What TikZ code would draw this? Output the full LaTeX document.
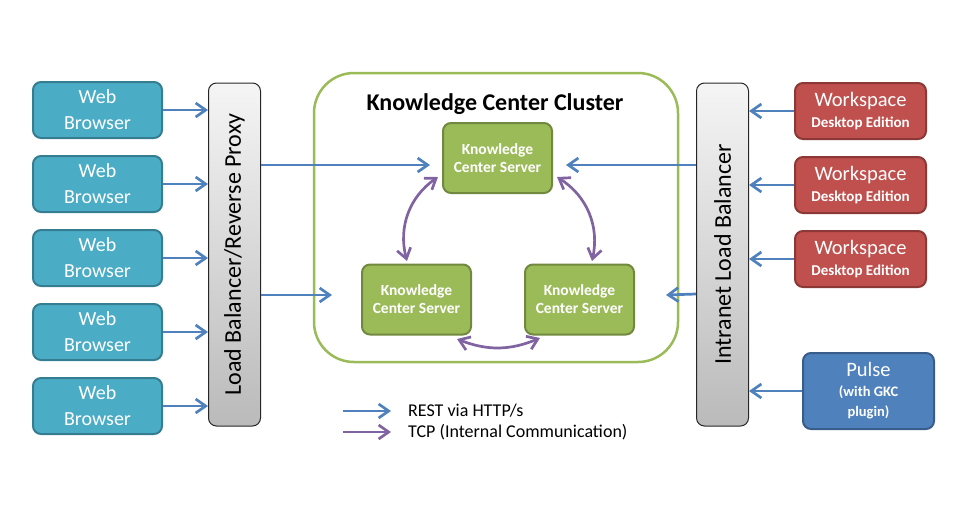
\documentclass[tikz,border=0pt]{standalone}
\usepackage{fontspec}
\setmainfont{Carlito}
\usetikzlibrary{arrows.meta,calc}
\definecolor{tealfill}{HTML}{4BACC6}
\definecolor{tealline}{HTML}{357D91}
\definecolor{grnfill}{HTML}{9BBB59}
\definecolor{grnline}{HTML}{71893F}
\definecolor{redfill}{HTML}{C0504D}
\definecolor{redline}{HTML}{8C3836}
\definecolor{bluefill}{HTML}{4F81BD}
\definecolor{blueline}{HTML}{385D8A}
\definecolor{arrblue}{HTML}{4F81BD}
\definecolor{arrpurple}{HTML}{8064A2}
\begin{document}
\begin{tikzpicture}[x=1pt,y=-1pt,
  box/.style={rounded corners=8pt, line width=2pt, text=white, align=center, inner sep=0pt},
  web/.style={box, fill=tealfill, draw=tealline, minimum width=129pt, minimum height=56pt, font=\fontsize{20}{26}\selectfont},
  kcs/.style={box, fill=grnfill, draw=grnline, minimum width=109pt, minimum height=70pt, font=\bfseries\fontsize{15.5}{18}\selectfont},
  wsd/.style={box, fill=redfill, draw=redline, minimum width=131pt, minimum height=56pt, font=\fontsize{15}{21}\selectfont},
  pls/.style={box, fill=bluefill, draw=blueline, minimum width=131pt, minimum height=76pt, font=\fontsize{14.5}{20}\selectfont},
  lbbox/.style={rounded corners=8pt, line width=1pt, draw=black!85, top color=black!4, bottom color=black!27, minimum width=52pt, inner sep=0pt},
  lbtext/.style={rotate=90, font=\fontsize{24}{26}\selectfont},
  rest/.style={draw=arrblue, line width=2.7pt, -{Straight Barb[length=10pt,width=14pt]}},
  tcp/.style={draw=arrpurple, line width=2.7pt, {Straight Barb[length=10pt,width=14pt]}-{Straight Barb[length=10pt,width=14pt]}},
  tcpone/.style={draw=arrpurple, line width=2.7pt, -{Straight Barb[length=10pt,width=14pt]}},
  legtext/.style={anchor=west, inner sep=0pt, font=\fontsize{18}{20}\selectfont}
]
\useasboundingbox (0,0) rectangle (960,528);

% cluster
\node[draw=grnfill, line width=2.5pt, rounded corners=40pt, minimum width=364pt, minimum height=289pt, inner sep=0pt] (cluster) at (496,217.5) {};
\node[font=\bfseries\fontsize{24}{26}\selectfont] (ctitle) at (495,104) {Knowledge Center Cluster};

% load balancers
\node[lbbox, minimum height=343pt] (lb) at (234.5,254.5) {};
\node[lbtext] (lbt) at (lb) {Load Balancer/Reverse Proxy};
\node[lbbox, minimum height=343pt] (ilb) at (722.5,254.5) {};
\node[lbtext] (ilbt) at (ilb) {Intranet Load Balancer};

% web browsers
\foreach \i/\y in {1/110,2/184,3/258,4/332,5/406}{
  \node[web] (wb\i) at (97.5,\y) {Web\\Browser};
  \draw[rest] (wb\i.east) -- (lb.west |- wb\i.east);
}

% servers
\node[kcs] (kc1) at (497.5,158) {Knowledge\\Center Server};
\node[kcs] (kc2) at (416.5,299.5) {Knowledge\\Center Server};
\node[kcs] (kc3) at (579.5,299.5) {Knowledge\\Center Server};

% workspaces
\foreach \i/\y in {1/111,2/185,3/259}{
  \node[wsd] (ws\i) at (860.5,\y) {{\fontsize{20.5}{21}\selectfont Workspace}\\{\bfseries Desktop Edition}};
  \draw[rest] (ws\i.west) -- (ilb.east |- ws\i.west);
}
\node[pls] (pulse) at (868.5,391) {{\fontsize{20.5}{20}\selectfont Pulse}\\{\bfseries (with GKC}\\{\bfseries plugin)}};
\draw[rest] (pulse.west) -- (ilb.east |- pulse.west);

% REST arrows into cluster
\coordinate (a1s) at (261,165);
\coordinate (a1e) at (430,165);
\coordinate (a2s) at (261,295);
\coordinate (a2e) at (332,295);
\coordinate (b1s) at (696,165);
\coordinate (b1e) at (566,165);
\coordinate (b2s) at (696,294);
\coordinate (b2e) at (666,295);
\draw[rest] (a1s) -- (a1e);
\draw[rest] (a2s) -- (a2e);
\draw[rest] (b1s) -- (b1e);
\draw[rest] (b2s) -- (b2e);

% TCP arcs
\coordinate (t1a) at (438,177);
\coordinate (t1b) at (407,261);
\coordinate (t2a) at (557,177);
\coordinate (t2b) at (592,261);
\coordinate (t3a) at (457,339);
\coordinate (t3b) at (540,338);
\draw[tcp] (t1a) to[bend right=35] (t1b);
\draw[tcp] (t2a) to[bend left=35] (t2b);
\draw[tcp] (t3a) to[bend right=22] (t3b);

% legend
\coordinate (l1s) at (343,411);
\coordinate (l1e) at (391,411);
\coordinate (l2s) at (343,432);
\coordinate (l2e) at (391,432);
\draw[rest] (l1s) -- (l1e);
\draw[tcpone] (l2s) -- (l2e);
\node[legtext] (lt1) at (408,411) {REST via HTTP/s};
\node[legtext] (lt2) at (408,432) {TCP (Internal Communication)};
\end{tikzpicture}
\end{document}
